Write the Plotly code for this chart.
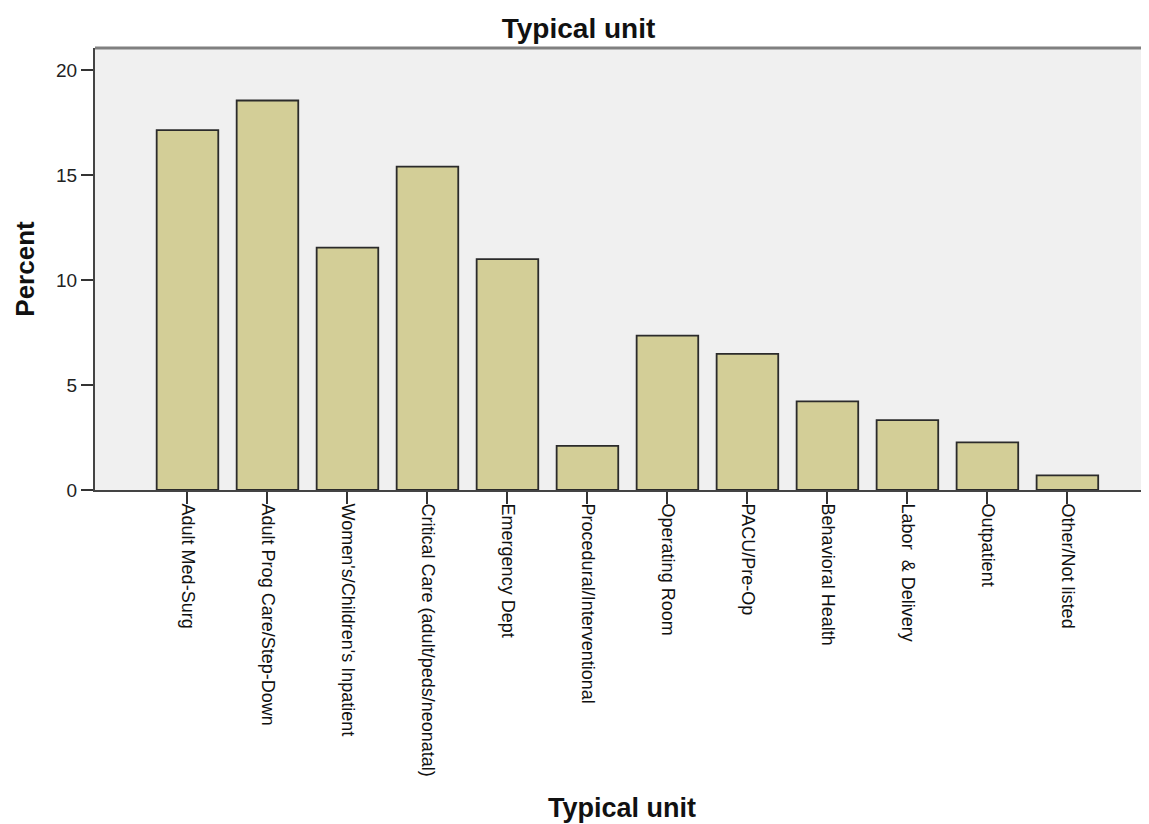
import plotly.graph_objects as go

categories = [
    "Adult Med-Surg",
    "Adult Prog Care/Step-Down",
    "Women's/Children's Inpatient",
    "Critical Care (adult/peds/neonatal)",
    "Emergency Dept",
    "Procedural/Interventional",
    "Operating Room",
    "PACU/Pre-Op",
    "Behavioral Health",
    "Labor  & Delivery",
    "Outpatient",
    "Other/Not listed",
]
percent = [17.14, 18.55, 11.54, 15.40, 11.00, 2.10, 7.35, 6.48, 4.22, 3.33, 2.27, 0.70]
y_ticks = [0, 5, 10, 15, 20]

FONT = "Liberation Sans, Arial, sans-serif"
W, H = 1141, 816  # page body has an 8px margin

fig = go.Figure(
    go.Bar(
        x=list(range(len(categories))),
        y=percent,
        width=0.77,
        marker=dict(color="#D3CE97", line=dict(color="#2b2b2b", width=1.8)),
    )
)

fig.update_layout(
    width=W,
    height=H,
    margin=dict(l=87, r=0, t=40, b=334),
    paper_bgcolor="white",
    plot_bgcolor="#F0F0F0",
    showlegend=False,
    title=dict(
        text="Typical unit",
        x=0.5,
        xref="container",
        xanchor="center",
        y=1 - 20 / H,
        yref="container",
        yanchor="middle",
        font=dict(family=FONT, size=28, color="#111", weight="bold"),
    ),
)

fig.update_xaxes(
    range=[-1.156, 12.02],
    tickmode="array",
    tickvals=list(range(len(categories))),
    ticktext=categories,
    tickangle=90,
    tickfont=dict(family=FONT, size=18, color="#111"),
    ticks="outside",
    ticklen=12,
    tickwidth=2,
    tickcolor="#333",
    ticklabelstandoff=-4,
    showline=True,
    linecolor="#444",
    linewidth=2,
    showgrid=False,
    zeroline=False,
    automargin=False,
    title=dict(text="Typical unit", standoff=22,
               font=dict(family=FONT, size=27, color="#111", weight="bold")),
)

fig.update_yaxes(
    range=[0, 21.05],
    tickmode="array",
    tickvals=y_ticks,
    ticks="outside",
    ticklen=12,
    tickwidth=2,
    tickcolor="#333",
    tickfont=dict(family=FONT, size=19, color="#222"),
    showline=True,
    linecolor="#444",
    linewidth=2,
    showgrid=False,
    zeroline=False,
    automargin=False,
    title=dict(text="Percent", standoff=14, font=dict(family=FONT, size=26, color="#111", weight="bold")),
)

fig.add_shape(
    type="line", xref="paper", yref="paper", x0=0, x1=1, y0=1, y1=1,
    line=dict(color="#808080", width=3),
)

fig.write_html("out.html")
